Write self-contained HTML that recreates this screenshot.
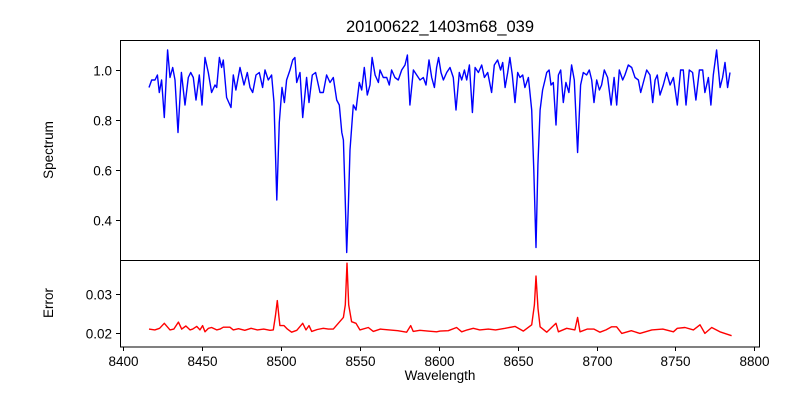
<!DOCTYPE html>
<html><head><meta charset="utf-8"><style>
body{margin:0;background:#fff}
svg{display:block;font-family:"Liberation Sans","DejaVu Sans",sans-serif}
</style></head><body>
<svg id="chart" width="800" height="400">
<rect width="800" height="400" fill="#fff"/>
<text x="440" y="32" font-size="16.5" text-anchor="middle">20100622_1403m68_039</text>
<text transform="translate(53,150) rotate(-90)" font-size="13.5" text-anchor="middle">Spectrum</text>
<text transform="translate(53,303) rotate(-90)" font-size="13.5" text-anchor="middle">Error</text>
<text x="440" y="380" font-size="13.5" text-anchor="middle">Wavelength</text>
<g id="marks"></g>
<rect x="120.5" y="40.5" width="639" height="220" fill="none" stroke="#000" stroke-width="1"/>
<rect x="120.5" y="260.5" width="639" height="86.5" fill="none" stroke="#000" stroke-width="1"/>
<g id="axes"></g>
</svg>
<script>
const specWave=[8416.3,8418,8420.1,8421.6,8422.8,8424.3,8426,8428.1,8429.6,8431.3,8432.8,8434.7,8436.8,8439.1,8441.2,8442.7,8444.4,8446.1,8448.2,8449.9,8451.8,8453.9,8456,8458.1,8459.2,8460.9,8462.3,8463.4,8465.5,8468.3,8469.7,8471.4,8474,8476.5,8478.6,8480.3,8482,8484.1,8486.2,8488.3,8489.8,8491.9,8494,8495.5,8497.3,8498.9,8500.6,8502.1,8503.5,8505.7,8507.4,8508.8,8509.9,8512,8513.7,8516.2,8517.7,8519.8,8521.9,8524.7,8526.8,8528.9,8531,8533.1,8535.3,8536.9,8538.5,8539.5,8540.6,8541.6,8542.6,8543.7,8545.8,8547.5,8549.6,8551.1,8552.8,8554.7,8556.4,8557.7,8559.6,8561.7,8562.7,8564.8,8567,8568.6,8570.1,8572.2,8574.3,8576.5,8578.6,8580.1,8581.7,8583.9,8586,8588.1,8590.2,8591.9,8593.8,8595.5,8597.2,8598.6,8599.9,8601.4,8602.9,8605,8607.1,8609.2,8610.9,8613,8614.5,8616.2,8617.7,8619.4,8621.3,8623,8625.1,8627.2,8628.9,8631,8633.5,8635.2,8637.3,8639.2,8640.5,8642,8643.7,8645.1,8646.6,8648.3,8650,8651.5,8653.2,8654.6,8656.8,8658.9,8660.2,8661.6,8662.8,8664.2,8665.8,8667.3,8668.4,8669.9,8671.1,8672.6,8674.3,8675.8,8677.3,8678.9,8680.6,8682.5,8684.2,8685.9,8688,8689.9,8691.6,8693.7,8695.4,8696.9,8698.4,8700.1,8701.8,8703.2,8704.9,8707,8709.2,8711.1,8712.8,8714.4,8716.6,8718,8720.1,8722.3,8724.4,8726.5,8728,8730.1,8731.8,8733.9,8735.6,8737.1,8738.5,8740.2,8742.3,8744.4,8746.6,8748.7,8751.2,8753.3,8755,8756.7,8758.8,8760.9,8763,8765.2,8767.3,8768.7,8770.9,8772.5,8774,8776.1,8778.3,8779.9,8781.4,8783.1,8784.6];
const specFlux=[0.93,0.96,0.96,0.98,0.91,0.96,0.81,1.08,0.97,1.01,0.96,0.75,0.99,0.86,0.97,0.99,0.97,0.88,0.98,0.86,1.05,0.99,0.91,0.94,0.93,1.05,1.01,1.04,0.89,0.85,0.98,0.92,1.01,0.94,0.99,0.93,0.91,0.98,0.99,0.93,1.0,0.96,0.98,0.87,0.48,0.79,0.93,0.87,0.96,1.0,1.04,1.05,0.95,0.99,0.81,0.97,0.87,0.98,0.99,0.91,0.91,0.98,0.95,0.97,0.88,0.86,0.75,0.72,0.5,0.27,0.45,0.68,0.86,0.84,0.95,0.92,1.01,0.9,0.94,1.05,0.98,0.95,1.0,0.97,0.97,0.94,1.0,0.97,0.96,1.0,1.02,1.06,0.86,1.0,0.98,0.96,0.97,0.94,1.04,0.97,0.93,1.01,1.05,0.99,0.96,0.99,1.01,0.97,0.84,0.99,0.96,1.0,0.96,1.02,0.83,1.01,0.99,1.02,0.97,0.99,0.91,1.02,1.04,1.0,1.03,0.93,0.99,1.05,0.98,0.87,0.99,0.97,0.98,0.93,0.97,0.84,0.6,0.29,0.62,0.84,0.92,0.96,0.99,1.0,0.94,0.95,0.78,0.98,1.0,0.87,0.95,0.91,1.02,0.96,0.67,0.94,0.99,0.98,1.0,0.96,0.87,0.96,0.92,0.94,1.0,0.97,0.86,0.97,0.86,1.0,0.96,0.98,1.02,1.01,0.97,0.96,0.91,0.96,1.0,0.98,0.87,0.96,0.98,0.9,0.94,0.99,0.94,0.97,0.86,1.0,1.0,0.86,1.0,0.99,0.88,1.0,1.0,0.91,0.97,0.86,0.98,1.08,0.93,0.97,1.03,0.93,0.99];
const errWave=[
8416.3,8420,8423,8426,8429.6,8432,8434.9,8437,8439.7,8442.3,
8444,8446.5,8448.6,8450.3,8451.8,8454,8456,8459.2,8461.3,8463.4,
8467.6,8469.7,8473,8477,8481,8485,8489,8493,8495.1,8496.5,
8497.6,8498.7,8499.3,8501.9,8504,8506.7,8510,8513.7,8515.8,8517.7,
8519.4,8523,8526.8,8530,8533.1,8536.3,8539.5,8540.7,8541.8,8542.9,
8544.7,8547.5,8550,8555.3,8558.5,8563,8568.6,8574,8579.6,8582.2,
8583.8,8588,8593,8598.6,8600.8,8606,8611.3,8614.5,8618,8621.9,
8626,8631.4,8636,8642,8648.3,8653.6,8658.9,8660.6,8661.6,8662.9,
8664.2,8668.4,8674.3,8675.8,8681.1,8686.3,8688,8689.5,8694,8698.4,
8702.2,8706,8709.6,8712.7,8716,8722,8727.5,8735,8742,8748.7,
8751.2,8756.1,8761.4,8765.6,8768.7,8773,8778.2,8782,8785.6];
const errVal=[
0.0210,0.0208,0.0212,0.0225,0.0208,0.0210,0.0228,0.0210,0.0218,0.0208,
0.0210,0.0217,0.0208,0.0219,0.0203,0.0212,0.0214,0.0208,0.0210,0.0215,
0.0215,0.0208,0.0211,0.0207,0.0212,0.0208,0.0210,0.0207,0.0208,0.0245,
0.0283,0.0240,0.0219,0.0219,0.0210,0.0202,0.0207,0.0225,0.0208,0.0219,
0.0204,0.0209,0.0212,0.0210,0.0210,0.0225,0.0240,0.0272,0.0379,0.0272,
0.0229,0.0225,0.0208,0.0214,0.0204,0.0210,0.0208,0.0206,0.0202,0.0219,
0.0204,0.0207,0.0205,0.0203,0.0205,0.0206,0.0214,0.0203,0.0208,0.0212,
0.0208,0.0210,0.0208,0.0212,0.0217,0.0205,0.0221,0.0272,0.0346,0.0263,
0.0216,0.0202,0.0225,0.0203,0.0212,0.0208,0.0240,0.0203,0.0210,0.0210,
0.0202,0.0208,0.0216,0.0216,0.0199,0.0206,0.0199,0.0208,0.0210,0.0203,
0.0212,0.0214,0.0208,0.0221,0.0199,0.0214,0.0203,0.0198,0.0193];
const xTicks=[8400,8450,8500,8550,8600,8650,8700,8750,8800];
const specTicks=[0.4,0.6,0.8,1.0];
const errTicks=[0.02,0.03];

const NS='http://www.w3.org/2000/svg';
const xS=w=>123.3+(w-8400)*1.5775;
const yS=v=>70+(1.0-v)*250;
const yE=v=>333-(v-0.02)*3900;
const marks=document.getElementById('marks');
const axes=document.getElementById('axes');
function line(pts,color,name){
  const p=document.createElementNS(NS,'polyline');
  p.setAttribute('points',pts.join(' '));
  p.setAttribute('fill','none');p.setAttribute('stroke',color);
  p.setAttribute('stroke-width','1.4');p.setAttribute('stroke-linejoin','round');
  
  
  marks.appendChild(p);
}
line(specWave.map((w,i)=>xS(w).toFixed(1)+','+yS(specFlux[i]).toFixed(1)),'#0000ff','spectrum-line');
line(errWave.map((w,i)=>xS(w).toFixed(1)+','+yE(errVal[i]).toFixed(1)),'#ff0000','error-line');
function tick(x1,y1,x2,y2){
  const l=document.createElementNS(NS,'line');
  l.setAttribute('x1',x1);l.setAttribute('y1',y1);l.setAttribute('x2',x2);l.setAttribute('y2',y2);
  l.setAttribute('stroke','#000');l.setAttribute('stroke-width','1');
  
  
  axes.appendChild(l);
}
function label(x,y,txt,anchor,name){
  const t=document.createElementNS(NS,'text');
  t.setAttribute('x',x);t.setAttribute('y',y);t.setAttribute('font-size','13.5');
  t.setAttribute('text-anchor',anchor);t.textContent=txt;
  
  
  axes.appendChild(t);
}
xTicks.forEach(v=>{const x=Math.round(xS(v))+0.5;tick(x,347,x,351);label(x,366,String(v),'middle','x-tick-label');});
specTicks.forEach(v=>{const y=Math.round(yS(v))+0.5;tick(116,y,120.5,y);label(112,y+5,v.toFixed(1),'end','spectrum-tick-label');});
errTicks.forEach(v=>{const y=Math.round(yE(v))+0.5;tick(116,y,120.5,y);label(112,y+5,v.toFixed(2),'end','error-tick-label');});
</script>
</body></html>
